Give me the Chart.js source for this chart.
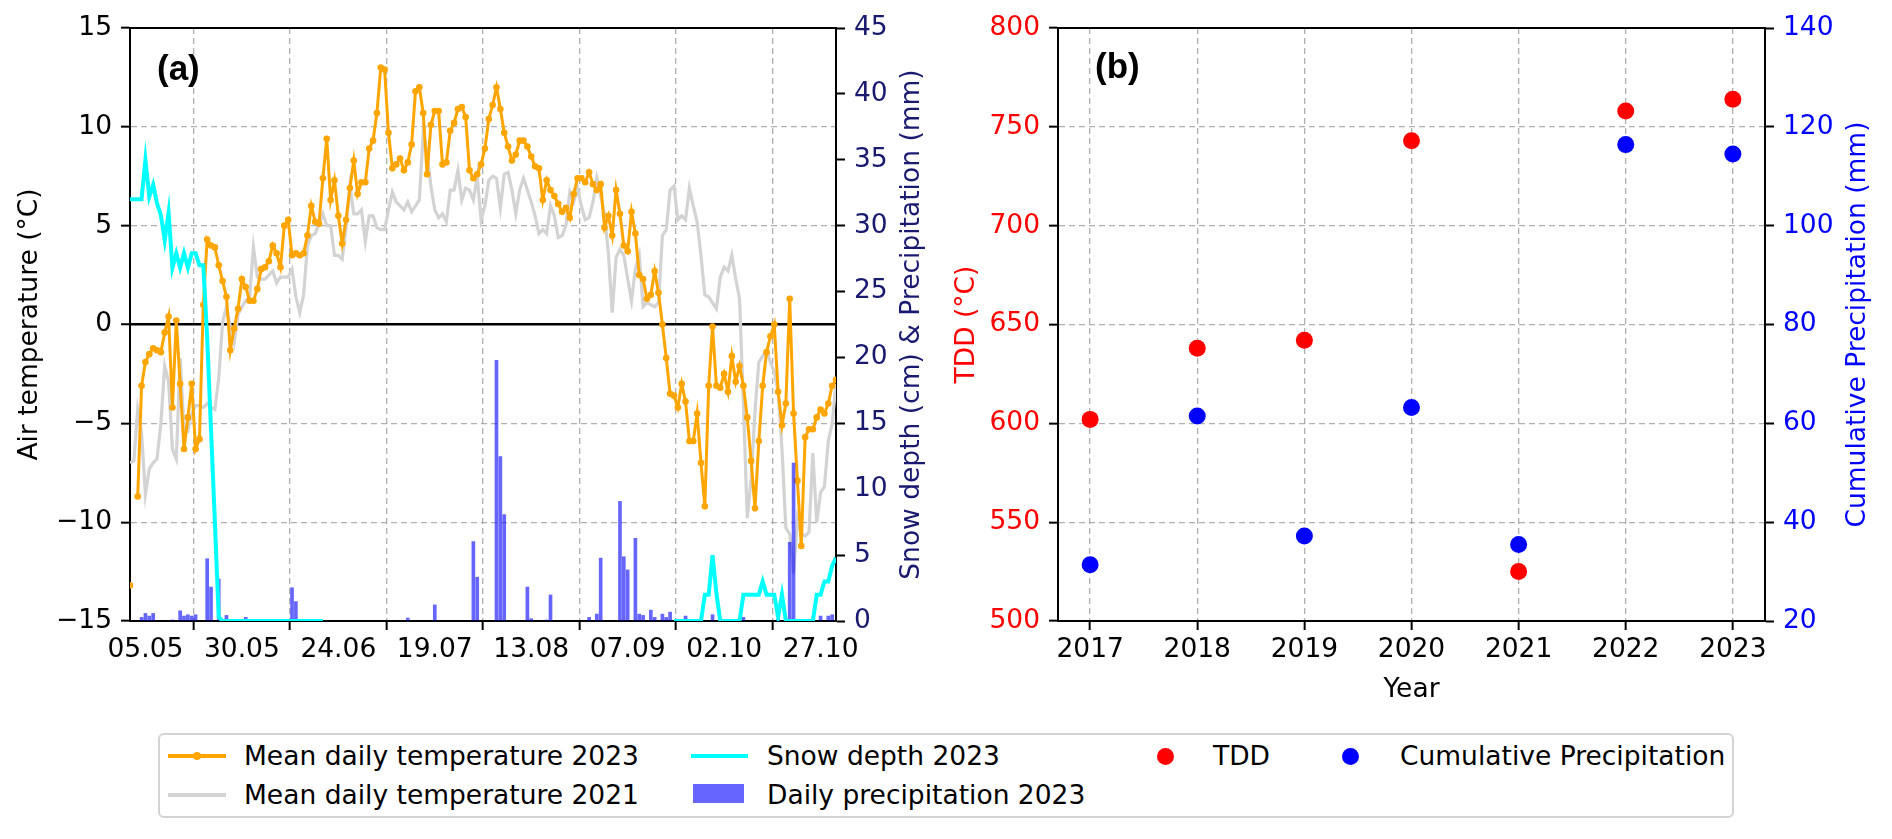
<!DOCTYPE html>
<html>
<head>
<meta charset="utf-8">
<script src="https://cdn.jsdelivr.net/npm/chart.js@4.4.1/dist/chart.umd.min.js"></script>
<style>
  body { margin: 0; background: #fff; }
  #page { position: relative; width: 1892px; height: 839px; overflow: hidden; font-family: "DejaVu Sans", sans-serif; }
  #c1 { position: absolute; left: 0; top: 0; }
  #c2 { position: absolute; left: 940px; top: 0; }
  .spine { position: absolute; height: 2px; background: #000; }
  #legend { position: absolute; left: 158px; top: 733px; width: 1576px; height: 85px; box-sizing: border-box;
            border: 2px solid #d4d4d4; border-radius: 6px; }
  .lg { position: absolute; font-size: 26.5px; line-height: 32px; transform: translateY(-50%); white-space: nowrap; color: #000; }
  .sw { position: absolute; }
  .dot { position: absolute; border-radius: 50%; }
</style>
</head>
<body>
<div id="page">
  <canvas id="c1" width="940" height="720"></canvas>
  <canvas id="c2" width="952" height="720"></canvas>
  <!-- top spines of the two plot boxes -->
  <div class="spine" style="left:129px;top:27px;width:708px"></div>
  <div class="spine" style="left:1057px;top:27px;width:709px"></div>

  <div id="legend"></div>
  <div class="sw" style="left:168px;top:754px;width:58px;height:3.5px;background:#ffa500"></div>
  <div class="dot" style="left:193px;top:752px;width:8px;height:8px;background:#ffa500"></div>
  <span class="lg" style="left:244px;top:756px">Mean daily temperature 2023</span>
  <div class="sw" style="left:168px;top:793px;width:58px;height:3.5px;background:#d3d3d3"></div>
  <span class="lg" style="left:244px;top:795px">Mean daily temperature 2021</span>
  <div class="sw" style="left:691px;top:754px;width:57px;height:4px;background:#00ffff"></div>
  <span class="lg" style="left:767px;top:756px">Snow depth 2023</span>
  <div class="sw" style="left:693px;top:784px;width:51px;height:19px;background:rgba(0,0,255,0.6)"></div>
  <span class="lg" style="left:767px;top:795px">Daily precipitation 2023</span>
  <div class="dot" style="left:1157px;top:748px;width:17px;height:17px;background:#ff0000"></div>
  <span class="lg" style="left:1213px;top:756px">TDD</span>
  <div class="dot" style="left:1342px;top:748px;width:17px;height:17px;background:#0000ff"></div>
  <span class="lg" style="left:1400px;top:756px">Cumulative Precipitation</span>
</div>

<script>
//---------------------------------------- DATA ----------------------------------------
// day index 0 = 01.05, 183 = 31.10
const dayTicks = [4, 29, 54, 79, 104, 129, 154, 179];
const dayTickLabels = ['05.05', '30.05', '24.06', '19.07', '13.08', '07.09', '02.10', '27.10'];

// Mean daily temperature 2023 (°C), one value per day
const temp2023 = [
  -13.2, null, -8.7, -3.1, -1.9, -1.5, -1.2, -1.3, -1.4, -0.4,
  0.4, -4.2, 0.2, -3.0, -6.3, -4.7, -3.0, -6.3, -5.8, 1.0,
  4.3, 4.0, 3.9, 3.0, 2.2, 1.4, -1.3, -0.2, 0.8, 2.3,
  1.9, 1.2, 1.2, 1.8, 2.8, 2.9, 3.2, 4.0, 3.6, 2.9,
  5.0, 5.3, 3.5, 3.6, 3.5, 3.6, 4.5, 6.0, 5.2, 5.1,
  7.4, 9.4, 6.3, 7.3, 5.5, 4.1, 5.3, 6.9, 8.3, 6.6,
  7.2, 7.2, 8.9, 9.3, 10.7, 13.0, 12.9, 9.7, 7.9, 8.1,
  8.4, 7.8, 8.2, 9.1, 11.8, 12.0, 10.7, 7.6, 10.1, 10.8,
  10.8, 8.1, 8.2, 9.8, 10.2, 10.9, 11.0, 10.5, 7.8, 7.4,
  7.6, 8.1, 8.9, 10.4, 11.1, 12.0, 10.9, 9.7, 9.0, 8.3,
  8.6, 9.3, 9.3, 9.0, 8.5, 8.0, 7.9, 6.3, 7.3, 6.8,
  6.5, 6.1, 5.7, 5.9, 5.4, 6.6, 7.4, 7.4, 7.2, 7.7,
  7.1, 6.8, 7.1, 4.9, 5.5, 4.5, 6.8, 5.6, 4.0, 3.7,
  5.7, 4.6, 2.5, 2.3, 1.3, 1.5, 2.7, 1.6, 0.0, -1.7,
  -3.5, -3.6, -4.2, -3.0, -3.9, -5.9, -5.9, -4.5, -7.0, -9.2,
  -3.1, -0.1, -3.1, -3.2, -2.5, -3.4, -1.6, -2.9, -2.1, -3.1,
  -4.7, -6.9, -9.3, -5.9, -3.1, -1.4, -0.6, 0.0, -3.4, -5.1,
  -4.0, 1.3, -4.5, -7.9, -11.2, -5.7, -5.3, -5.3, -4.7, -4.3,
  -4.5, -4.0, -3.1, -2.8
];

// Mean daily temperature 2021 (°C)
const temp2021 = [
  -7.0, -6.9, -4.3, -5.5, -8.6, -7.3, -7.0, -6.8, -5.0, -2.1,
  -2.9, -6.3, -6.8, -1.7, -5.3, -5.4, -4.5, -4.1, -4.1, -4.2,
  -4.0, -4.2, -4.3, -2.7, 0.1, 0.9, -0.1, -0.9, 0.5, 0.9,
  1.2, 1.4, 3.9, 2.4, 2.3, 2.3, 2.5, 2.7, 2.1, 2.4,
  2.4, 2.4, 2.8, 1.4, 0.6, 1.5, 4.0, 4.5, 4.6, 5.1,
  5.6, 5.0, 5.0, 3.5, 3.5, 3.3, 4.9, 7.0, 5.6, 5.6,
  5.8, 4.2, 5.5, 5.5, 4.9, 4.8, 4.8, 5.8, 6.7, 6.2,
  6.0, 5.8, 6.2, 5.7, 6.0, 6.3, 9.7, 8.7, 7.0, 5.8,
  5.4, 5.6, 5.2, 6.8, 6.8, 7.8, 6.3, 6.9, 6.8, 6.3,
  7.5, 5.3, 6.0, 7.3, 7.5, 7.4, 5.9, 7.6, 7.7, 6.8,
  5.6, 6.8, 7.4, 6.8, 6.2, 5.5, 4.6, 4.8, 4.6, 6.0,
  5.5, 4.4, 4.5, 5.0, 6.7, 6.2, 6.9, 6.0, 5.3, 5.4,
  6.2, 7.4, 6.5, 5.6, 3.6, 0.6, 3.4, 3.8, 3.5, 2.3,
  1.2, 2.8, 3.5, 0.9, 1.1, 1.0, 0.9, 1.1, 4.5, 4.8,
  6.8, 7.0, 5.3, 5.5, 5.3, 6.9, 6.0, 5.2, 3.5, 1.5,
  1.4, 1.1, 0.8, 2.4, 2.9, 2.7, 3.5, 2.3, 1.3, -4.0,
  -9.8, -7.8, -4.4, -1.9, -1.6, -1.3, -1.9, -2.4, -3.4, -6.3,
  -10.3, -10.6, -12.6, -9.8, -10.6, -10.7, -10.5, -6.5, -10.0, -8.5,
  -8.2, -5.9, -5.0, -3.0
];

// Snow depth 2023 (cm), null = no measurement
const snow2023 = [
  32.0, 32.0, 32.0, 32.0, 35.0, 32.2, 33.1, 31.7, 30.8, 28.9,
  31.0, 26.8, 27.9, 26.8, 27.9, 26.8, 27.9, 27.9, 27.0, 27.0,
  21.5, 14.5, 7.5, 0.3, 0, 0, 0, 0, 0, 0,
  0, 0, 0, 0, 0, 0, 0, 0, 0, 0,
  0, 0, 0, 0, 0, 0, 0, 0, 0, 0,
  0, null, null, null, null, null, null, null, null, null,
  null, null, null, null, null, null, null, null, null, null,
  null, null, null, null, null, null, null, null, null, null,
  null, null, null, null, null, null, null, null, null, null,
  null, null, null, null, null, null, null, null, null, null,
  null, null, null, null, null, null, null, null, null, null,
  null, null, null, null, null, null, null, null, null, null,
  null, null, null, null, null, null, null, null, null, null,
  null, null, null, null, null, null, null, null, null, null,
  null, 0, 0, 0, 0, 0, 0, 0, 0, 2.0,
  2.0, 5.0, 2.1, 0, 0, 0, 0, 0, 0, 2.0,
  2.0, 2.0, 2.0, 2.0, 3.0, 2.0, 2.0, 2.0, 0.3, 2.0,
  0, 0, 0, 0, 0, 0, 0, 0, 2.0, 2.0,
  3.0, 3.0, 4.2, 4.8
];

// Daily precipitation 2023 (mm), only days with rain
const precipDay = [3, 4, 5, 6, 11, 13, 14, 15, 16, 17, 20, 21, 23, 25, 30, 42, 43, 72, 79, 86, 89, 90,
  95, 96, 97, 103, 104, 108, 109, 119, 121, 122, 127, 128, 129, 131, 132, 133, 135, 136, 138, 139, 140,
  144, 151, 159, 168, 171, 172, 179, 181, 182];
const precipMm = [0.3, 0.6, 0.4, 0.6, 0.1, 0.8, 0.4, 0.5, 0.4, 0.5, 4.75, 2.6, 3.2, 0.45, 0.3, 2.55, 1.5, 0.25, 1.25, 0.05, 6.05, 3.35,
  19.8, 12.5, 8.1, 2.6, 0.2, 0.1, 2.0, 0.3, 0.55, 4.8, 9.1, 4.9, 3.9, 6.3, 0.55, 0.45, 0.85, 0.3, 0.55, 0.3, 0.7,
  0.4, 0.5, 0.3, 0.15, 6.0, 12.0, 0.4, 0.4, 0.5];

// panel (b)
const years = [2017, 2018, 2019, 2020, 2021, 2022, 2023];
const tdd = [602, 638, 642, 743, 525, 758, 764];
const cumPrecip = [31.4, 61.5, 37.2, 63.2, 35.5, 116.4, 114.5];

//---------------------------------------- STYLE ----------------------------------------
Chart.defaults.font.family = '"DejaVu Sans", sans-serif';
Chart.defaults.font.size = 26.5;
Chart.defaults.color = '#000';
Chart.defaults.animation = false;

const gridGray = 'rgba(150,150,150,0.75)';
const navy = '#191970';
const minus = v => (v < 0 ? '\u2212' + Math.abs(v) : String(v));
const xy = arr => arr.map((v, i) => ({ x: i, y: v }));

// panel letter and the right-hand axis title (reads bottom to top)
const decor = {
  id: 'decor',
  afterDraw(chart, args, opts) {
    const { ctx, chartArea: a } = chart;
    ctx.save();
    ctx.font = 'bold 35px "Liberation Sans", sans-serif';
    ctx.fillStyle = '#000';
    ctx.textAlign = 'left';
    ctx.textBaseline = 'middle';
    ctx.fillText(opts.label, a.left + opts.dx, a.top + opts.dy);

    ctx.translate(opts.titleX, (a.top + a.bottom) / 2);
    ctx.rotate(-Math.PI / 2);
    ctx.font = '26.5px "DejaVu Sans", sans-serif';
    ctx.fillStyle = opts.titleColor;
    ctx.textAlign = 'center';
    ctx.fillText(opts.title, 0, 0);
    ctx.restore();
  }
};

const tickGrid = { tickColor: '#000', tickLength: 9, tickWidth: 2 };

//---------------------------------------- PANEL (a) ----------------------------------------
new Chart(document.getElementById('c1'), {
  type: 'line',
  data: {
    datasets: [
      {
        label: 'Snow depth 2023', data: xy(snow2023), yAxisID: 'y2',
        borderColor: '#00ffff', borderWidth: 4, pointRadius: 0, spanGaps: false, order: 1
      },
      {
        type: 'bar', label: 'Daily precipitation 2023', yAxisID: 'y2',
        data: precipDay.map((d, i) => ({ x: d, y: precipMm[i] })),
        backgroundColor: 'rgba(0,0,255,0.6)', barPercentage: 0.95, categoryPercentage: 1, order: 2
      },
      {
        label: 'Mean daily temperature 2023', data: xy(temp2023), yAxisID: 'y',
        borderColor: '#ffa500', backgroundColor: '#ffa500', borderWidth: 3,
        pointRadius: 3.3, pointBorderWidth: 0, spanGaps: false, order: 3
      },
      {
        label: 'Mean daily temperature 2021', data: xy(temp2021), yAxisID: 'y',
        borderColor: '#d3d3d3', borderWidth: 3.2, pointRadius: 0, order: 4
      }
    ]
  },
  options: {
    responsive: false,
    devicePixelRatio: 1,
    layout: { padding: { top: 28 } },
    plugins: {
      legend: { display: false }, tooltip: { enabled: false },
      decor: { label: '(a)', dx: 27, dy: 42, title: 'Snow depth (cm) & Precipitation (mm)', titleColor: navy, titleX: 912 }
    },
    scales: {
      x: {
        type: 'linear', min: 0, max: 183, offset: false,
        afterBuildTicks: s => { s.ticks = dayTicks.map(v => ({ value: v })); },
        afterFit: s => { s.height = 99; },
        ticks: { autoSkip: false, maxRotation: 0, padding: 4, callback: v => dayTickLabels[dayTicks.indexOf(v)] },
        grid: { color: gridGray, lineWidth: 1.3, ...tickGrid },
        border: { color: '#000', width: 2, dash: [6, 4] }
      },
      y: {
        position: 'left', min: -15, max: 15,
        afterFit: s => { s.width = 130; },
        ticks: { stepSize: 5, padding: 9, callback: minus },
        title: { display: true, text: 'Air temperature (°C)', padding: { top: 14 } },
        grid: {
          color: c => (c.tick && c.tick.value === 0 ? '#000' : gridGray),
          lineWidth: c => (c.tick && c.tick.value === 0 ? 2.5 : 1.3),
          ...tickGrid
        },
        border: { color: '#000', width: 2, dash: c => (c.tick && c.tick.value === 0 ? [] : [6, 4]) }
      },
      y2: {
        position: 'right', min: 0, max: 45,
        afterFit: s => { s.width = 104; },
        ticks: { stepSize: 5, padding: 9, color: navy },
        grid: { drawOnChartArea: false, ...tickGrid },
        border: { color: '#000', width: 2 }
      }
    }
  },
  plugins: [decor]
});

//---------------------------------------- PANEL (b) ----------------------------------------
new Chart(document.getElementById('c2'), {
  type: 'scatter',
  data: {
    datasets: [
      {
        label: 'Cumulative Precipitation', yAxisID: 'y2',
        data: years.map((yr, i) => ({ x: yr, y: cumPrecip[i] })),
        backgroundColor: '#0000ff', pointRadius: 8.5, pointBorderWidth: 0, order: 1
      },
      {
        label: 'TDD', yAxisID: 'y',
        data: years.map((yr, i) => ({ x: yr, y: tdd[i] })),
        backgroundColor: '#ff0000', pointRadius: 8.5, pointBorderWidth: 0, order: 2
      }
    ]
  },
  options: {
    responsive: false,
    devicePixelRatio: 1,
    layout: { padding: { top: 28 } },
    plugins: {
      legend: { display: false }, tooltip: { enabled: false },
      decor: { label: '(b)', dx: 37, dy: 40, title: 'Cumulative Precipitation (mm)', titleColor: '#0000ff', titleX: 918 }
    },
    scales: {
      x: {
        type: 'linear', min: 2016.7, max: 2023.3,
        afterBuildTicks: s => { s.ticks = years.map(v => ({ value: v })); },
        afterFit: s => { s.height = 99; },
        ticks: { autoSkip: false, maxRotation: 0, padding: 4, callback: v => String(v) },
        title: { display: true, text: 'Year', padding: { bottom: 14 } },
        grid: { color: gridGray, lineWidth: 1.3, ...tickGrid },
        border: { color: '#000', width: 2, dash: [6, 4] }
      },
      y: {
        position: 'left', min: 500, max: 800,
        afterFit: s => { s.width = 118; },
        ticks: { stepSize: 50, padding: 9, color: '#ff0000' },
        title: { display: true, text: 'TDD (°C)', color: '#ff0000', padding: { top: 11 } },
        grid: { color: gridGray, lineWidth: 1.3, ...tickGrid },
        border: { color: '#000', width: 2, dash: [6, 4] }
      },
      y2: {
        position: 'right', min: 20, max: 140,
        afterFit: s => { s.width = 127; },
        ticks: { stepSize: 20, padding: 9, color: '#0000ff' },
        grid: { drawOnChartArea: false, ...tickGrid },
        border: { color: '#000', width: 2 }
      }
    }
  },
  plugins: [decor]
});
</script>
</body>
</html>
